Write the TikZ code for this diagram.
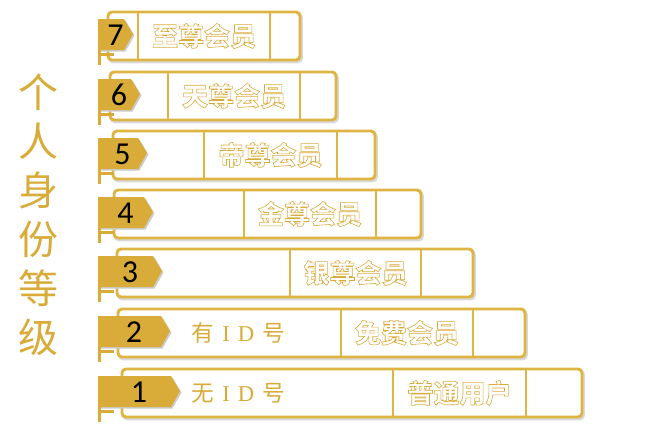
\documentclass[tikz,border=0pt]{standalone}
\usepackage{fontspec}
\newfontfamily\cjk{Noto Sans CJK SC}
\newfontfamily\numfont{Carlito}
\newfontfamily\idserif{Liberation Serif}
\definecolor{gold}{RGB}{217,172,58}
\definecolor{goldline}{RGB}{222,180,66}
% hollow text: white fill, gold stroke
\newcommand\hollow[1]{\special{pdf:literal direct 2 Tr 0.85 0.67 0.23 RG 0.45 w}#1\special{pdf:literal direct 0 Tr}}
\tikzset{
  levelbox/.style={draw=goldline, line width=2.2pt, rounded corners=3pt},
  boxshadow/.style={draw=black!15, line width=2.2pt, rounded corners=3pt},
  divider/.style={draw=goldline, line width=2.2pt},
  numlabel/.style={font=\numfont\fontsize{24}{24}\selectfont, text=black},
  ranklabel/.style={font=\cjk\bfseries\fontsize{19.5}{19.5}\selectfont, text=white},
  idlabel/.style={font=\cjk\fontsize{17}{17}\selectfont, text=gold, anchor=west},
  titlelabel/.style={font=\cjk\fontsize{30}{36.75}\selectfont, text=gold, align=center}
}
\begin{document}
\begin{tikzpicture}[x=0.75pt,y=-0.75pt]
\useasboundingbox (0,0) rectangle (661,433);

% vertical title
\node[titlelabel] (title) at (38,215) {个\\人\\身\\份\\等\\级};

% one row per level
\foreach \n/\t/\xl/\xr/\xa/\xb/\xp/\rank in {7/12/108/300/138/270/133/至尊会员,
  6/72/110/336/168/300/140/天尊会员, 5/131/113/375/204/337/147/帝尊会员,
  4/190/114/421/244/376/153/金尊会员, 3/249/117/473/290/421/162/银尊会员,
  2/309/118/525/341/473/170/免费会员, 1/369/122/582/393/526/180/普通用户}
{
  \draw[boxshadow] (\xl+1.5,\t+2) rectangle (\xr+1.5,\t+50);
  \draw[levelbox, fill=white] (\xl,\t) rectangle (\xr,\t+48);
  \draw[divider] (\xa,\t) -- (\xa,\t+48);
  \draw[divider] (\xb,\t) -- (\xb,\t+48);
  % tag
  \fill[black!20] (99.5,\t+8.5) -- (\xp-7.5,\t+8.5) -- (\xp+1.5,\t+23.5) -- (\xp-7.5,\t+39.5) -- (99.5,\t+39.5) -- cycle;
  \fill[gold] (98,\t+7) -- (\xp-9,\t+7) -- (\xp,\t+22) -- (\xp-9,\t+38) -- (98,\t+38) -- cycle;
  \fill[gold] (98,\t+38) rectangle (101,\t+53);
  \fill[gold] (98,\t+41) rectangle (114,\t+44);
  \node[numlabel] (num\n) at ({(98+\xp)/2},\t+23) {\n};
  \node[ranklabel] (rank\n) at ({(\xa+\xb)/2},\t+24) {\hollow{\rank}};
}

\node[idlabel] (id2) at (187,333) {有\hspace{6pt}{\idserif I}\hspace{6pt}{\idserif D}\hspace{6pt}号};
\node[idlabel] (id1) at (187,393) {无\hspace{6pt}{\idserif I}\hspace{6pt}{\idserif D}\hspace{6pt}号};
\end{tikzpicture}
\end{document}
